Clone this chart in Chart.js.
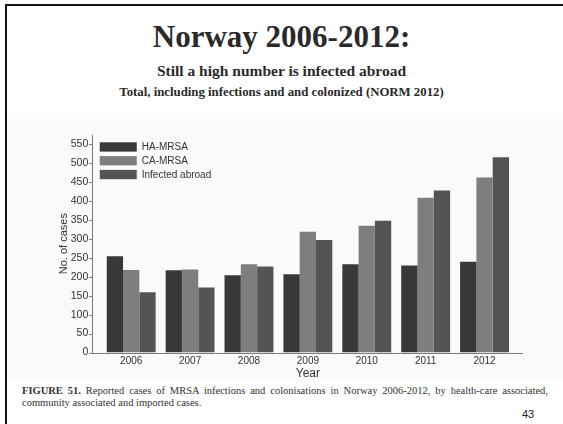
<!DOCTYPE html>
<html>
<head>
<meta charset="utf-8">
<title>Norway 2006-2012</title>
<script src="https://cdn.jsdelivr.net/npm/chart.js@4.4.0/dist/chart.umd.min.js"></script>
<style>
  html, body { margin: 0; padding: 0; background: #fff; }
  body { width: 563px; height: 424px; position: relative; overflow: hidden; }
  .frame { position: absolute; left: 5px; top: 4px; right: -4px; bottom: -4px;
           border-top: 2px solid #111; border-left: 2px solid #111; }
  .band { position: absolute; left: 7px; right: 0; top: 119px; height: 262px; background: #fafafa; }
  .head { position: absolute; left: 0; width: 563px; text-align: center; white-space: nowrap;
          font-family: "Liberation Serif", "Times New Roman", serif; font-weight: bold;
          color: #2a2a2a; line-height: 1; }
  #title { top: 21px; font-size: 31px; }
  #sub1 { top: 63px; font-size: 15.5px; }
  #sub2 { top: 86px; font-size: 12.8px; }
  #wrap { position: absolute; left: 0; top: 115px; width: 563px; height: 270px; }
  .caption { position: absolute; left: 22px; width: 526px; top: 385px;
             font-family: "Liberation Serif", "Times New Roman", serif; font-size: 10.5px;
             line-height: 11.5px; color: #333; text-align: justify; }
  .caption b { font-weight: bold; }
  .pageno { position: absolute; left: 522px; top: 408px; font-family: "Liberation Sans", Arial, sans-serif;
            font-size: 11px; color: #222; }
</style>
</head>
<body>
<div class="frame"></div>
<div class="band"></div>
<div class="head" id="title">Norway 2006-2012:</div>
<div class="head" id="sub1">Still a high number is infected abroad</div>
<div class="head" id="sub2">Total, including infections and and colonized (NORM 2012)</div>
<div id="wrap"><canvas id="chart" width="563" height="270"></canvas></div>
<div class="caption"><b>FIGURE 51.</b> Reported cases of MRSA infections and colonisations in Norway 2006-2012, by health-care associated, community associated and imported cases.</div>
<div class="pageno">43</div>
<script>
// reported MRSA cases per year
const years = ["2006", "2007", "2008", "2009", "2010", "2011", "2012"];
const haMrsa = [254, 217, 204, 207, 233, 230, 240];
const caMrsa = [218, 219, 233, 319, 335, 409, 462];
const infectedAbroad = [159, 172, 227, 297, 348, 428, 516];
const seriesNames = ["HA-MRSA", "CA-MRSA", "Infected abroad"];
const seriesColors = ["#383838", "#7e7e7e", "#545454"];
const yMax = 575;
const yLastTick = 550;
const yStep = 50;

const FONT = "'Liberation Sans', Arial, sans-serif";
const AXIS = "#7a7a7a";

// axis lines stick out a little past the bars, plus the small y tick marks
const axisLines = {
  id: "axisLines",
  afterDatasetsDraw(chart) {
    const { ctx, chartArea: a, scales: { y } } = chart;
    const left = Math.round(a.left - 10) + 0.5;
    const right = a.right + 9;
    const base = Math.round(a.bottom) + 0.5;
    ctx.save();
    ctx.strokeStyle = AXIS;
    ctx.lineWidth = 1;
    ctx.beginPath();
    ctx.moveTo(left, a.top);
    ctx.lineTo(left, base);
    ctx.lineTo(right, base);
    y.ticks.forEach(t => {
      const py = Math.round(y.getPixelForValue(t.value)) + 0.5;
      ctx.moveTo(left - 3.5, py);
      ctx.lineTo(left, py);
    });
    ctx.stroke();
    ctx.restore();
  }
};

// legend boxes in the upper left corner of the plot
const cornerLegend = {
  id: "cornerLegend",
  afterDraw(chart) {
    const { ctx, chartArea: a } = chart;
    const x = a.left - 2;
    let top = a.top + 7.5;
    ctx.save();
    ctx.font = "10px " + FONT;
    ctx.textBaseline = "middle";
    chart.data.datasets.forEach(ds => {
      ctx.fillStyle = ds.backgroundColor;
      ctx.fillRect(x, top, 37, 9.3);
      ctx.fillStyle = "#333";
      ctx.fillText(ds.label, x + 42, top + 5);
      top += 13.8;
    });
    ctx.restore();
  }
};

new Chart(document.getElementById("chart"), {
  type: "bar",
  data: {
    labels: years,
    datasets: [haMrsa, caMrsa, infectedAbroad].map((d, i) => ({
      label: seriesNames[i],
      data: d,
      backgroundColor: seriesColors[i],
      borderWidth: 0,
      categoryPercentage: 0.83,
      barPercentage: 1
    }))
  },
  options: {
    responsive: false,
    animation: false,
    layout: { padding: { left: 0, top: 12.7, right: 49, bottom: 0 } },
    plugins: { legend: { display: false }, tooltip: { enabled: false } },
    scales: {
      x: {
        grid: { display: false, drawTicks: false },
        border: { display: false },
        ticks: { color: "#333", font: { family: FONT, size: 10 }, padding: 2.5 },
        title: { display: true, text: "Year", color: "#333", font: { family: FONT, size: 12 },
                 padding: { top: 0, bottom: 3.8 } },
        afterFit: s => { s.height = 32.5; }
      },
      y: {
        min: 0,
        max: yMax,
        bounds: "data",
        grid: { display: false, drawTicks: false },
        border: { display: false },
        ticks: { stepSize: yStep, includeBounds: false, color: "#333",
                 font: { family: FONT, size: 10.5 }, padding: 13.5 },
        afterBuildTicks: s => { s.ticks = s.ticks.filter(t => t.value <= yLastTick); },
        title: { display: true, text: "No. of cases", color: "#333", font: { family: FONT, size: 11 },
                 padding: { top: 57, bottom: 0 } },
        afterFit: s => { s.width = 101.75; }
      }
    }
  },
  plugins: [axisLines, cornerLegend]
});
</script>
</body>
</html>
